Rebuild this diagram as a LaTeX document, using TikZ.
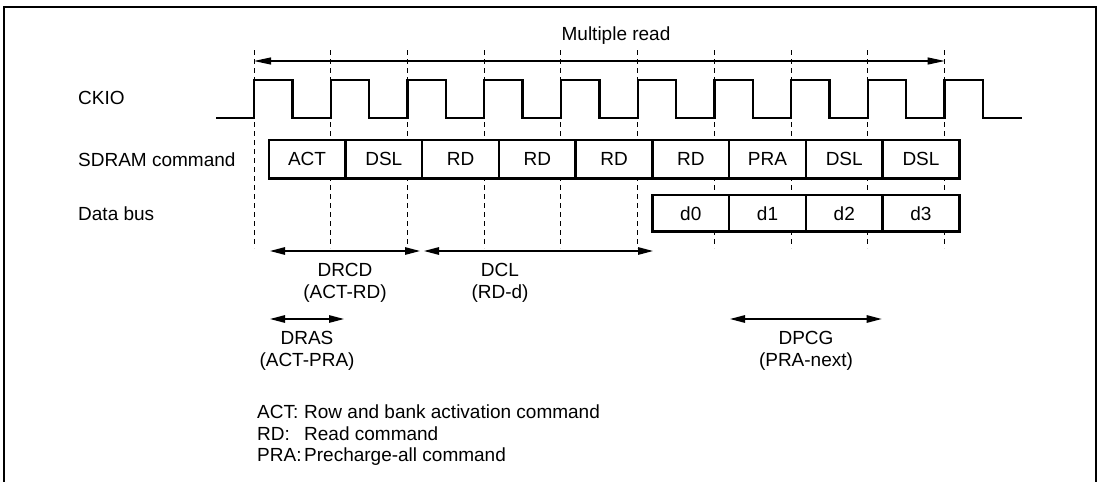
\documentclass[tikz,border=0pt]{standalone}
\usepackage{fontspec}
\setmainfont{Liberation Sans}
\usetikzlibrary{arrows.meta}
\begin{document}
\begin{tikzpicture}[x=1pt,y=-1pt,
  txt/.style={font=\fontsize{19}{22.5}\selectfont, inner sep=0pt},
  cell/.style={draw, line width=2.4pt, fill=white, minimum width=76.74pt, inner sep=0pt, font=\fontsize{19}{22.5}\selectfont},
  dsh/.style={line width=1pt, dash pattern=on 5pt off 4pt},
  dim/.style={line width=1.3pt, {Triangle[length=15pt,width=7.5pt]}-{Triangle[length=15pt,width=7.5pt]}},
  clk/.style={line width=2.4pt, line join=miter},
  frame/.style={line width=2.6pt}]
\useasboundingbox (0,0) rectangle (1101,482);
\fill[white] (0,0) rectangle (1101,482);
\draw[frame] (4,495) -- (4,7) -- (1096,7) -- (1096,495);

% dashed clock-edge guides
\foreach \k in {0,...,9}{
  \coordinate (gt\k) at ({254+76.74*\k},50);
  \coordinate (gb\k) at ({254+76.74*\k},248);
  \draw[dsh] (gt\k) -- (gb\k);
}

% clock
\draw[clk] (216,117.7) \foreach \k in {0,...,9}{
  -- ({254+76.74*\k},117.7) -- ({254+76.74*\k},80)
  -- ({292.37+76.74*\k},80) -- ({292.37+76.74*\k},117.7)} -- (1021.7,117.7);

% labels
\node[txt, anchor=base west] (lckio) at (78,104) {CKIO};
\node[txt, anchor=base west] (lcmd) at (78,166) {SDRAM command};
\node[txt, anchor=base west] (ldata) at (78,220) {Data bus};

% SDRAM command cells
\foreach \t [count=\i from 0] in {ACT,DSL,RD,RD,RD,RD,PRA,DSL,DSL}{
  \node[cell, minimum height=38.3pt] (c\i) at ({268.7+76.74*(\i+0.5)},159.2) {\t};
}
% data bus cells
\foreach \t [count=\i from 0] in {d0,d1,d2,d3}{
  \node[cell, minimum height=36.7pt] (d\i) at ({652.4+76.74*(\i+0.5)},213.3) {\t};
}

% multiple read
\coordinate (mrl) at (254,61);
\coordinate (mrr) at (944.7,61);
\draw[line width=1.1pt, {Triangle[length=17pt,width=7pt]}-{Triangle[length=17pt,width=7pt]}] (mrl) -- (mrr);
\node[txt] (mr) at (616,36) {Multiple read};

% DRCD
\coordinate (drcdl) at (270,251);
\coordinate (drcdr) at (420,251);
\draw[dim] (drcdl) -- (drcdr);
\node[txt, align=center] (drcd) at (345,283) {DRCD\\(ACT-RD)};

% DCL
\coordinate (dcll) at (424,251);
\coordinate (dclr) at (653,251);
\draw[dim] (dcll) -- (dclr);
\node[txt, align=center] (dcl) at (500,283) {DCL\\(RD-d)};

% DRAS
\coordinate (drasl) at (270,319);
\coordinate (drasr) at (344,319);
\draw[dim] (drasl) -- (drasr);
\node[txt, align=center] (dras) at (307,351) {DRAS\\(ACT-PRA)};

% DPCG
\coordinate (dpcgl) at (730,319);
\coordinate (dpcgr) at (881.7,319);
\draw[dim] (dpcgl) -- (dpcgr);
\node[txt, align=center] (dpcg) at (806,351) {DPCG\\(PRA-next)};

% legend
\node[txt, anchor=base west] (k1) at (257,418.5) {ACT:};
\node[txt, anchor=base west] (v1) at (304,418.5) {Row and bank activation command};
\node[txt, anchor=base west] (k2) at (257,440) {RD:};
\node[txt, anchor=base west] (v2) at (304,440) {Read command};
\node[txt, anchor=base west] (k3) at (257,461.5) {PRA:};
\node[txt, anchor=base west] (v3) at (304,461.5) {Precharge-all command};
\end{tikzpicture}
\end{document}
